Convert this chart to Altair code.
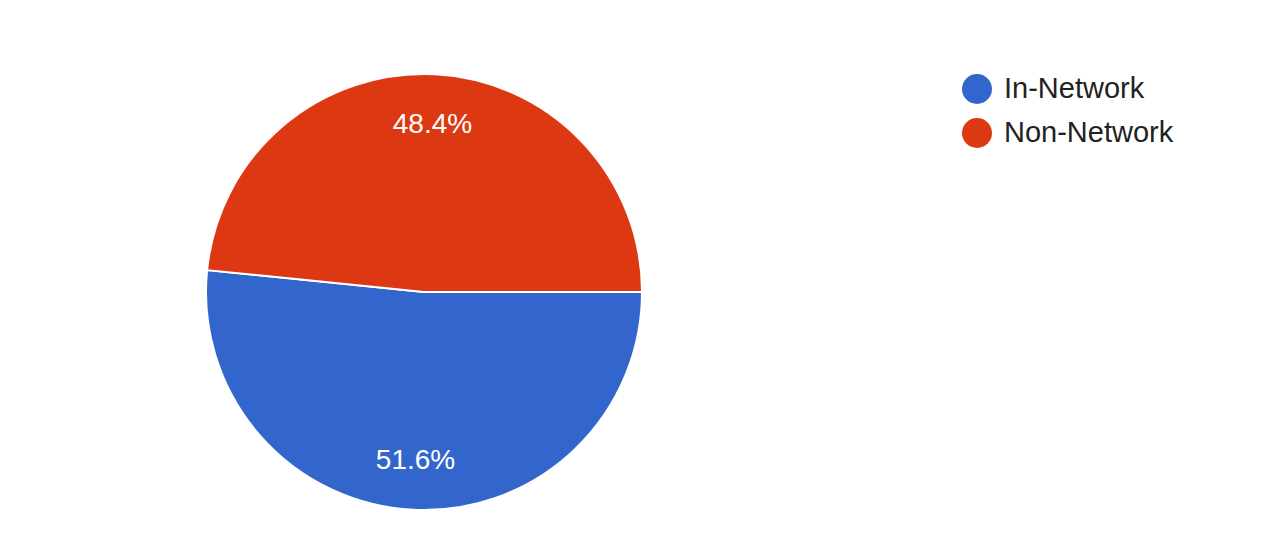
import math
import altair as alt
import pandas as pd

categories = ["In-Network", "Non-Network"]
shares = [51.6, 48.4]
colors = ["#3366CC", "#DC3912"]

df = pd.DataFrame({"category": categories, "share": shares, "idx": list(range(len(categories)))})

theta_scale = alt.Scale(range=[math.pi / 2, math.pi / 2 + 2 * math.pi])
color_scale = alt.Scale(domain=categories, range=colors)

base = alt.Chart(df).encode(
    theta=alt.Theta("share:Q", stack=True, scale=theta_scale),
    order=alt.Order("idx:Q"),
)

pie = base.mark_arc(outerRadius=218, stroke="white", strokeWidth=2).encode(
    x=alt.value(416),
    y=alt.value(284),
    color=alt.Color(
        "category:N",
        scale=color_scale,
        sort=categories,
        legend=alt.Legend(
            title=None,
            orient="none",
            legendX=954,
            legendY=66,
            symbolType="circle",
            symbolSize=900,
            symbolStrokeWidth=0,
            labelFontSize=29,
            labelFont="Liberation Sans",
            labelColor="#222222",
            labelOffset=12,
            labelLimit=400,
            rowPadding=14,
        ),
    ),
)

labels = base.transform_calculate(
    label="format(datum.share, '.1f') + '%'"
).mark_text(
    radius=168,
    fontSize=28,
    font="Liberation Sans",
    color="white",
    baseline="middle",
    align="center",
).encode(
    x=alt.value(416),
    y=alt.value(285),
    text="label:N",
)

chart = (
    alt.layer(pie, labels)
    .properties(width=1255, height=539, padding=0, autosize=alt.AutoSizeParams(type="none"))
    .configure_view(stroke=None)
)

chart.save("out.html", embed_options={"renderer": "svg", "actions": False})
